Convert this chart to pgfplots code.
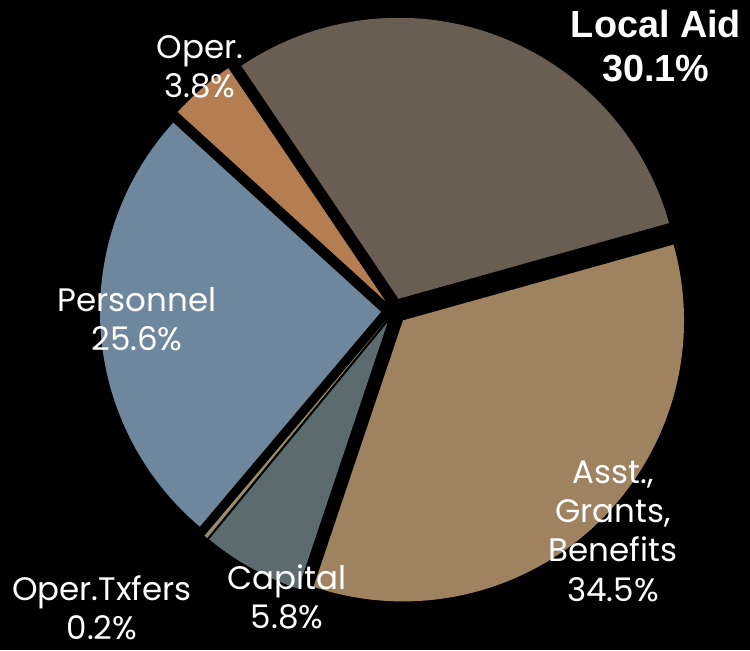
\documentclass[border=0pt]{standalone}
\usepackage{pgfplots}
\pgfplotsset{compat=1.18}
\usepackage{pgfplotstable}
\usepackage{fontspec}
\setmainfont{Poppins}
\newfontfamily\boldlabel{Liberation Sans}
\definecolor{localaid}{HTML}{6A5D52}
\definecolor{asst}{HTML}{9F8360}
\definecolor{capital}{HTML}{5B6B6E}
\definecolor{txfers}{HTML}{9A8C6A}
\definecolor{personnel}{HTML}{6F879C}
\definecolor{oper}{HTML}{B47D52}

% share of each slice, clockwise from the top-left edge of Local Aid
\pgfplotstableread{
name pct col
LocalAid 30.1 localaid
Asst 34.5 asst
Capital 5.8 capital
OperTxfers 0.2 txfers
Personnel 25.6 personnel
Oper 3.8 oper
}\slices

\begin{document}
\begin{tikzpicture}
\begin{axis}[
    scale only axis,
    width=15cm, height=13cm,
    xmin=0, xmax=750, ymin=0, ymax=650,
    axis lines=none,
    clip=false,
]
\fill[black] (axis cs:0,0) rectangle (axis cs:750,650);
\pgfmathsetmacro\astart{124}
\pgfplotsforeachungrouped \i in {0,...,5}{%
  \pgfplotstablegetelem{\i}{pct}\of\slices \let\pct\pgfplotsretval
  \pgfplotstablegetelem{\i}{col}\of\slices \let\col\pgfplotsretval
  \pgfmathsetmacro\aend{\astart-3.6*\pct}
  \pgfmathsetmacro\amid{(\astart+\aend)/2}
  \pgfmathsetmacro\cx{394+13*cos(\amid)}
  \pgfmathsetmacro\cy{339+13*sin(\amid)}
  \edef\slicecmd{\noexpand\fill[\col] (axis cs:\cx,\cy) -- ++(\astart:5.62cm)
     arc[start angle=\astart, end angle=\aend, radius=5.62cm] -- cycle;}%
  \slicecmd
  \let\astart\aend
}
% labels
\tikzset{lbl/.style={text=white, align=center, inner sep=0pt,
  font=\fontsize{18.5}{22.4}\selectfont}}
\node[lbl, font=\boldlabel\bfseries\fontsize{21.5}{25.5}\selectfont] at (axis cs:656,604) {Local Aid\\30.1\%};
\node[lbl] at (axis cs:200,583) {Oper.\\3.8\%};
\node[lbl] at (axis cs:137,331) {Personnel\\25.6\%};
\node[lbl] at (axis cs:613,119) {Asst.,\\Grants,\\Benefits\\34.5\%};
\node[lbl] at (axis cs:287,53) {Capital\\5.8\%};
\node[lbl] at (axis cs:102,42) {Oper.Txfers\\0.2\%};
\end{axis}
\end{tikzpicture}
\end{document}
